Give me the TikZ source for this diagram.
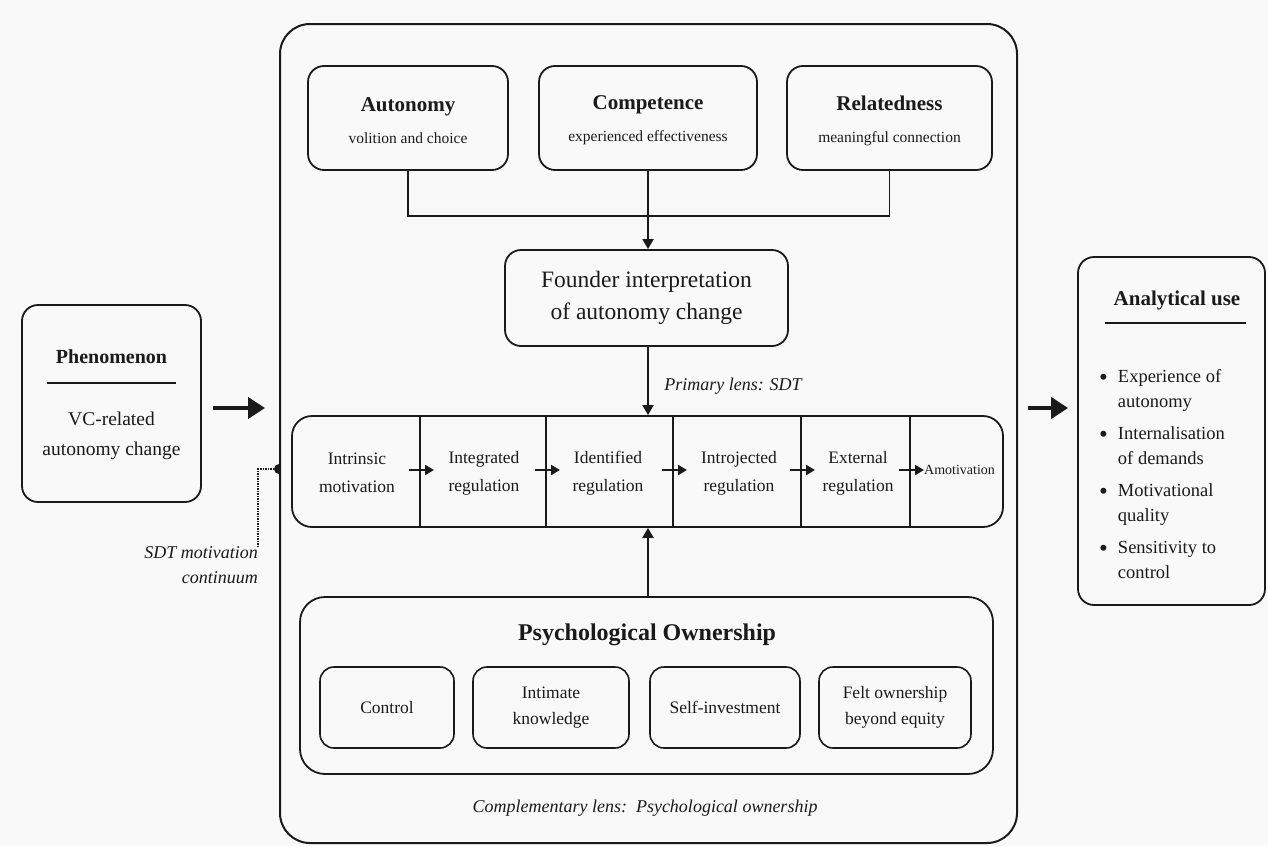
\documentclass[tikz,border=0pt]{standalone}
\usepackage{fontspec}
\setmainfont{Liberation Serif}
\usetikzlibrary{arrows.meta,calc}

\definecolor{paperbg}{HTML}{F9F9F9}
\definecolor{inkblk}{HTML}{1A1A1A}
\newcommand{\fsz}[2]{\fontsize{#1}{#2}\selectfont}
\newcommand{\needtitle}{\fsz{21}{26}\bfseries}
\newcommand{\usebullet}{\raisebox{-2.5pt}{\fsz{25}{25}\textbullet}}

\tikzset{
  rbox/.style={draw=inkblk, line width=1.8pt, rounded corners=16pt, fill=paperbg, inner sep=0pt},
  thinarr/.style={draw=inkblk, line width=1.8pt, -{Triangle[length=10pt,width=11pt]}},
  fatarr/.style={draw=inkblk, line width=4.5pt, -{Triangle[length=17pt,width=21pt]}},
  steparr/.style={draw=inkblk, line width=2.6pt, -{Triangle[length=9pt,width=10pt]}},
  headrule/.style={draw=inkblk, line width=1.2pt},
  needbox/.style={rbox, minimum height=104pt, align=center, font=\fsz{15.5}{32}},
  pobox/.style={rbox, rounded corners=14pt, line width=1.6pt, minimum height=81pt, align=center, font=\fsz{17.5}{26}},
  cell/.style={align=center, font=\fsz{17.5}{28}, inner sep=0pt},
  lens/.style={font=\fsz{18}{25}\itshape, inner sep=0pt},
}

\begin{document}
\begin{tikzpicture}[x=1pt, y=-1pt, color=inkblk, text=inkblk]
    \fill[paperbg, use as bounding box] (0,0) rectangle (1268,846);
    %frame
    \node[rbox, rounded corners=30pt, line width=2pt, minimum width=737pt, minimum height=819pt] (main) at (648.5,433.5) {};
    %needs
    \node[needbox, minimum width=200pt] (auto) at (408,118) {};
    \node[needbox, minimum width=218pt] (comp) at (648,118) {};
    \node[needbox, minimum width=205pt] (rel) at (889.5,118) {};
    \node[align=center, font=\fsz{15.5}{32}] (autotxt) at (408,120.5) {{\needtitle Autonomy}\\volition and choice};
    \node[align=center, font=\fsz{15.5}{32}] (comptxt) at (648,120.5) {{\needtitle Competence}\\experienced effectiveness};
    \node[align=center, font=\fsz{15.5}{32}] (reltxt) at (889.5,120.5) {{\needtitle Relatedness}\\meaningful connection};
    \node[rbox, minimum width=283pt, minimum height=96pt, align=center, font=\fsz{23.5}{32}] (founder) at (646.5,298) {Founder interpretation\\of autonomy change};
    \coordinate (join) at (comp.south |- 0,216);
    \draw[line width=1.8pt] (auto.south) |- (join) -| (rel.south);
    \draw[line width=1.8pt] (comp.south) -- (join);
    \draw[thinarr] (join) -- (founder.north -| join);
    \node[lens] (primary) at (733,386) {Primary lens: SDT};
    %continuum
    \node[rbox, rounded corners=20pt, minimum width=711pt, minimum height=111pt] (cont) at (647.5,471.5) {};
    \draw[thinarr] (founder.south -| join) -- (cont.north -| join);
    \foreach \x [count=\i] in {420,546,673,801,910}{
        \draw[line width=1.1pt] (cont.north -| \x,0) -- (cont.south -| \x,0);
        \coordinate (dv\i) at (\x,470);
    }
    \node[cell] (cell1) at (357,473) {Intrinsic\\motivation};
    \node[cell] (cell2) at (484,473) {Integrated\\regulation};
    \node[cell] (cell3) at (608,473) {Identified\\regulation};
    \node[cell] (cell4) at (739,473) {Introjected\\regulation};
    \node[cell] (cell5) at (858,473) {External\\regulation};
    \node[cell, anchor=west, font=\fsz{14}{17}] (amot) at (924,470) {Amotivation};
    \foreach \i in {1,...,5}
        \draw[steparr] ([xshift=-11pt]dv\i) -- ([xshift=14pt]dv\i);
    %ownership
    \node[rbox, rounded corners=25pt, minimum width=693pt, minimum height=177pt] (po) at (646.5,685.5) {};
    \draw[thinarr] (po.north -| join) -- (cont.south -| join);
    \node[inner sep=0pt, font=\fsz{24}{28}\bfseries] (potitle) at (647,635) {Psychological Ownership};
    \node[pobox, minimum width=134pt] (ctrl) at (387,707.5) {Control};
    \node[pobox, minimum width=156pt] (intim) at (551,707.5) {Intimate\\knowledge};
    \node[pobox, minimum width=150pt] (selfinv) at (725,707.5) {Self-investment};
    \node[pobox, minimum width=152pt] (felt) at (895,707.5) {Felt ownership\\beyond equity};
    \node[lens] (complens) at (645,808) {Complementary lens:\ \ Psychological ownership};
    %phenomenon
    \node[rbox, minimum width=179pt, minimum height=197pt] (phen) at (111.5,403.5) {};
    \node[inner sep=0pt, font=\fsz{20}{24}\bfseries] (phentitle) at (111.5,357) {Phenomenon};
    \draw[headrule] (47,383) -- (176,383);
    \node[inner sep=0pt, align=center, font=\fsz{19.5}{30}] (phenbody) at (111.5,436) {VC-related\\autonomy change};
    \draw[fatarr, shorten <=11pt, shorten >=14pt] (phen.east |- 0,408) -- (main.west |- 0,408);
    \coordinate (sdtpin) at (main.west |- 0,469);
    \node[lens, align=right, anchor=north east] (sdtlbl) at (258,546) {SDT motivation\\continuum};
    \draw[densely dotted, line width=1.5pt] (sdtpin) -| (sdtlbl.north east);
    \fill ([yshift=5pt]sdtpin) arc[start angle=90, end angle=270, radius=5pt] -- cycle;
    %analytical use
    \node[rbox, minimum width=187pt, minimum height=348pt] (anl) at (1171.5,431) {};
    \node[inner sep=0pt, font=\fsz{21}{25}\bfseries] (anltitle) at (1177,300) {Analytical use};
    \draw[headrule] (1105,323) -- (1246,323);
    \node[inner sep=0pt, anchor=north west, font=\fsz{18.5}{25}] (anlitems) at (1099,365) {%
        \begin{tabular}{@{}c@{\hspace{10pt}}l@{}}
        \usebullet & Experience of\\ & autonomy\\[7pt]
        \usebullet & Internalisation\\ & of demands\\[7pt]
        \usebullet & Motivational\\ & quality\\[7pt]
        \usebullet & Sensitivity to\\ & control
        \end{tabular}};
    \draw[fatarr, shorten <=10pt, shorten >=9pt] (main.east |- 0,408) -- (anl.west |- 0,408);
\end{tikzpicture}
\end{document}
